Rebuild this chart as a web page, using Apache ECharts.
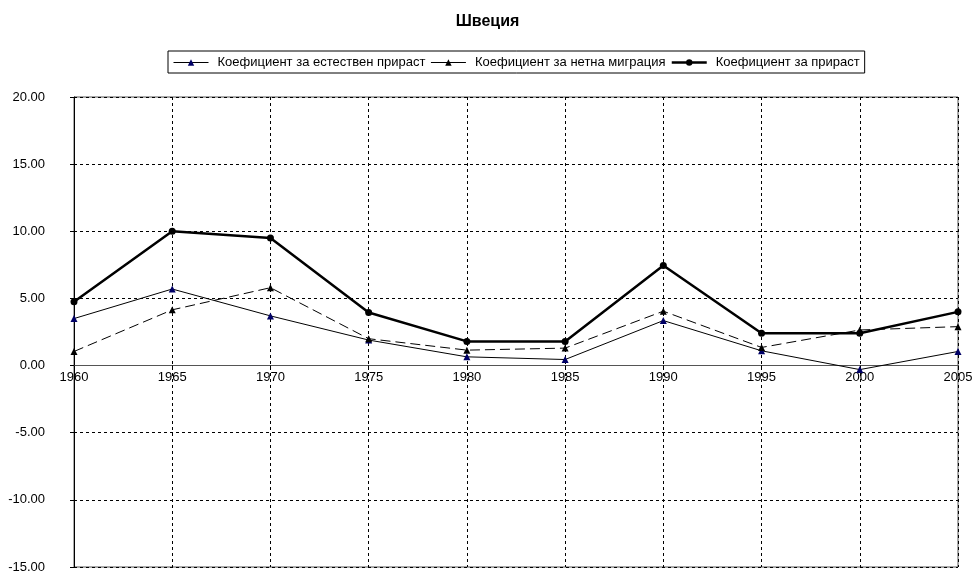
<!DOCTYPE html>
<html><head><meta charset="utf-8">
<script src="https://cdn.jsdelivr.net/npm/echarts@6/dist/echarts.min.js"></script>
<style>html,body{margin:0;padding:0;background:#fff}#c{width:975px;height:574px}</style>
</head><body><div id="c"></div>
<script>
const title = 'Швеция';
const years = ['1960','1965','1970','1975','1980','1985','1990','1995','2000','2005'];
const seriesNames = ['Коефициент за естествен прираст','Коефициент за нетна миграция','Коефициент за прираст'];
const natural = [3.5, 5.7, 3.7, 1.9, 0.65, 0.45, 3.35, 1.1, -0.3, 1.05];
const migration = [1.05, 4.15, 5.8, 2.0, 1.15, 1.3, 4.05, 1.35, 2.65, 2.9];
const total = [4.75, 10.0, 9.5, 3.95, 1.8, 1.8, 7.45, 2.4, 2.4, 4.0];
const yMin = -15, yMax = 20, yStep = 5;

const font = 'Liberation Sans, Arial, sans-serif';
const gridTop = 97, gridBottom = 7, H = 574;
const plotH = H - gridTop - gridBottom;
const zeroOffset = -((0 - yMin) / (yMax - yMin)) * plotH;

const chart = echarts.init(document.getElementById('c'), null, {renderer: 'canvas'});
chart.setOption({
  animation: false,
  backgroundColor: '#fff',
  title: {text: title, left: 'center', top: 9, textStyle: {fontFamily: font, fontSize: 16, fontWeight: 'bold', color: '#000'}},
  legend: {
    top: 51, left: 168, itemGap: 5, itemWidth: 35, itemHeight: 8,
    borderColor: '#000', borderWidth: 1, padding: [5, 5, 4, 5],
    textStyle: {fontFamily: font, fontSize: 13, color: '#000', padding: [0, 0, 0, 4]},
    data: [
      {name: seriesNames[0], lineStyle: {width: 1, type: 'solid'}},
      {name: seriesNames[1], lineStyle: {width: 1, type: 'solid'}},
      {name: seriesNames[2], lineStyle: {width: 2.5, type: 'solid'}}
    ]
  },
  grid: {left: 74, right: 17, top: gridTop, bottom: gridBottom, show: true, borderColor: '#555', borderWidth: 1,
         containLabel: false, outerBoundsMode: 'none'},
  xAxis: {
    type: 'category', data: years, boundaryGap: false, position: 'bottom', offset: zeroOffset,
    axisLine: {onZero: false, lineStyle: {color: '#555', width: 1}},
    axisTick: {show: true, alignWithLabel: true, length: 4, lineStyle: {color: '#000'}},
    axisLabel: {fontFamily: font, fontSize: 13, color: '#000', margin: 5},
    splitLine: {show: true, lineStyle: {color: '#000', type: [3, 3], width: 1}}
  },
  yAxis: {
    type: 'value', min: yMin, max: yMax, interval: yStep,
    axisLine: {show: true, lineStyle: {color: '#000', width: 1}},
    axisTick: {show: true, length: 4, lineStyle: {color: '#000'}},
    axisLabel: {fontFamily: font, fontSize: 13, color: '#000', margin: 29, formatter: v => v.toFixed(2)},
    splitLine: {show: true, lineStyle: {color: '#000', type: [3, 3], width: 1}}
  },
  series: [
    {name: seriesNames[0], type: 'line', data: natural, symbol: 'triangle', symbolSize: 7,
     itemStyle: {color: '#000066'}, lineStyle: {color: '#000', width: 1}, z: 3},
    {name: seriesNames[1], type: 'line', data: migration, symbol: 'triangle', symbolSize: 7,
     itemStyle: {color: '#000'}, lineStyle: {color: '#000', width: 1, type: [10, 5]}, z: 3},
    {name: seriesNames[2], type: 'line', data: total, symbol: 'circle', symbolSize: 7,
     itemStyle: {color: '#000'}, lineStyle: {color: '#000', width: 2.5}, z: 4}
  ]
});
</script></body></html>
